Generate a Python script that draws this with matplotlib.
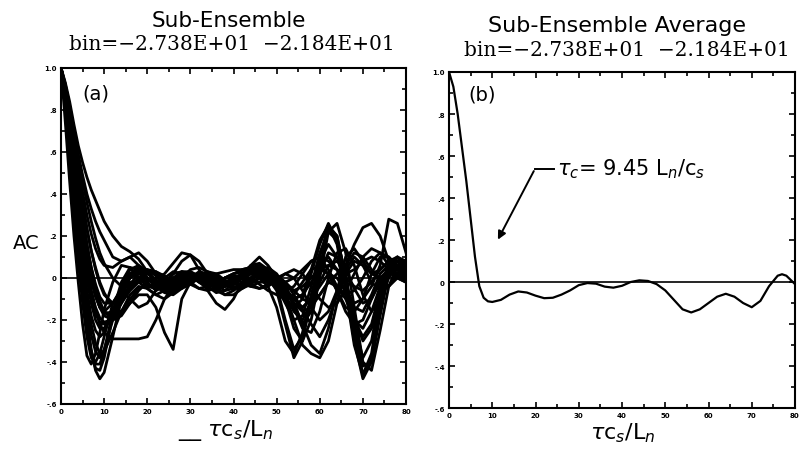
import matplotlib.pyplot as plt
import numpy as np

# lag grid (tau c_s / L_n)
tau = [0, 1, 2, 3, 4, 5, 6, 7, 8, 9, 10,
       12, 14, 16, 18, 20, 22, 24, 26, 28, 30, 32, 34, 36, 38, 40, 42, 44, 46, 48, 50,
       52, 54, 56, 58, 60, 62, 64, 66, 68, 70, 72, 74, 76, 78, 80]

# panel (a): individual sub-ensemble autocorrelations
c01 = [1.0, .74, .46, .2, -.02, -.22, -.37, -.41, -.36, -.26, -.15,
       -.02, .06, .05, .0, -.04, -.05, -.02, .02, .03, .01, -.02, -.04, -.03, .0, .02, .03, .02, .0, -.02, -.03,
       -.05, -.1, -.14, -.1, -.02, .06, .08, .04, -.05, -.12, -.1, -.02, .05, .06, .03]
c02 = [1.0, .86, .66, .44, .22, .0, -.19, -.34, -.44, -.48, -.45,
       -.28, -.1, .02, .05, .03, -.01, -.04, -.05, -.03, .0, .02, .01, -.02, -.04, -.03, .0, .03, .04, .02, -.01,
       -.08, -.16, -.2, -.12, .02, .12, .1, -.02, -.18, -.3, -.24, -.08, .04, .08, .05]
c03 = [1.0, .84, .63, .4, .18, -.04, -.22, -.36, -.43, -.44, -.38,
       -.18, -.04, .04, .06, .03, -.02, -.06, -.07, -.04, .0, .03, .02, -.01, -.03, -.02, .01, .04, .05, .03, .01,
       -.04, -.12, -.22, -.16, .04, .24, .2, .0, -.26, -.46, -.38, -.12, .06, .1, .06]
c04 = [1.0, .8, .55, .3, .08, -.12, -.28, -.38, -.4, -.36, -.28,
       -.12, -.06, -.1, -.14, -.12, -.06, .0, .03, .02, -.02, -.05, -.06, -.05, -.03, -.02, -.03, -.04, -.02, .0, .01,
       -.02, -.08, -.15, -.22, -.28, -.2, -.08, .02, .08, .06, .02, .0, .02, .04, .02]
c05 = [1.0, .86, .68, .48, .28, .09, -.08, -.22, -.31, -.36, -.35,
       -.26, -.16, -.08, -.04, -.05, -.08, -.1, -.07, -.02, .02, .01, -.02, -.06, -.08, -.06, -.03, .0, .01, -.01, -.03,
       -.1, -.24, -.3, -.2, .0, .22, .26, .12, -.14, -.4, -.44, -.25, -.04, .06, .08]
c06 = [1.0, .88, .72, .55, .38, .22, .07, -.06, -.15, -.22, -.26,
       -.29, -.29, -.29, -.29, -.28, -.2, -.1, -.04, -.02, -.03, -.05, -.04, -.02, .0, .0, -.02, -.04, -.05, -.03, .0,
       .02, .0, -.06, -.14, -.2, -.16, -.06, .06, .12, .1, .04, -.02, -.04, .0, .04]
c07 = [1.0, .9, .76, .6, .44, .29, .16, .05, -.04, -.11, -.16,
       -.2, -.18, -.12, -.08, -.08, -.14, -.26, -.34, -.1, -.02, .0, -.02, -.04, -.04, -.02, .0, .02, .02, .0, -.02,
       -.06, -.12, -.16, -.14, -.08, -.02, -.04, -.1, -.2, -.24, -.16, -.04, .04, .06, .04]
c08 = [1.0, .93, .84, .73, .63, .55, .48, .42, .37, .32, .27,
       .2, .15, .125, .09, .03, -.02, -.04, -.02, .02, .03, .01, -.01, -.02, .0, .02, .03, .04, .03, .01, -.01,
       -.04, -.06, -.04, .0, .04, .06, .04, .0, -.04, -.06, -.02, .04, .08, .08, .05]
c09 = [1.0, .92, .82, .7, .59, .49, .4, .33, .27, .22, .18,
       .1, .08, .1, .12, .08, .02, -.02, -.03, .0, .04, .05, .03, .0, -.02, -.02, .0, .02, .03, .02, .0,
       -.02, .0, .04, .08, .1, .08, .04, .02, .04, .08, .1, .08, .04, .0, -.02]
c10 = [1.0, .9, .77, .62, .48, .35, .23, .13, .05, -.02, -.07,
       -.14, -.16, -.12, -.06, -.02, .0, .02, .07, .12, .11, .04, -.02, -.04, -.03, -.01, .0, -.01, -.02, -.02, -.03,
       -.08, -.2, -.32, -.36, -.38, -.3, -.12, .04, .1, .06, -.02, -.06, -.04, .02, .06]
c11 = [1.0, .87, .7, .52, .35, .19, .05, -.06, -.14, -.19, -.21,
       -.2, -.12, -.04, .0, -.02, -.06, -.04, .02, .08, .11, .08, .02, -.03, -.06, -.05, -.02, .0, .01, .0, -.06,
       -.22, -.38, -.3, -.1, .1, .25, .2, .0, -.22, -.38, -.3, -.08, .08, .1, .04]
c12 = [1.0, .89, .74, .58, .42, .28, .15, .04, -.05, -.12, -.16,
       -.18, -.12, -.06, -.02, -.01, -.02, -.04, -.04, -.01, .02, .0, -.06, -.12, -.15, -.1, -.02, .06, .1, .06, .0,
       -.06, -.1, -.08, -.02, .04, .02, -.06, -.14, -.16, -.1, .02, .1, .1, .06, .02]
c13 = [1.0, .88, .72, .55, .39, .24, .11, .0, -.08, -.14, -.17,
       -.16, -.1, -.04, -.01, .0, -.02, -.05, -.06, -.04, -.01, .01, .02, .0, -.03, -.05, -.04, -.01, .02, .03, .01,
       -.02, -.06, -.1, -.12, -.08, -.02, .02, .06, .16, .24, .26, .2, .08, .0, -.02]
c14 = [1.0, .85, .66, .46, .27, .09, -.06, -.18, -.25, -.28, -.26,
       -.16, -.05, .02, .03, .0, -.04, -.06, -.04, .0, .02, .0, -.03, -.05, -.04, -.01, .02, .04, .03, .0, -.03,
       -.07, -.12, -.14, -.1, -.04, .02, .0, -.06, -.12, -.1, -.04, .06, .28, .26, .12]
c15 = [1.0, .87, .69, .5, .32, .15, .0, -.12, -.2, -.24, -.24,
       -.16, -.06, .0, .02, .0, -.03, -.04, -.02, .01, .02, .0, -.02, -.03, -.02, .0, .02, .03, .02, -.01, -.05,
       -.1, -.14, -.1, .02, .16, .26, .18, -.04, -.3, -.48, -.4, -.14, .06, .08, .02]
c16 = [1.0, .89, .74, .58, .43, .29, .16, .05, -.03, -.09, -.12,
       -.12, -.06, -.02, -.02, -.05, -.08, -.06, -.01, .03, .03, .0, -.04, -.07, -.06, -.02, .02, .06, .07, .04, -.04,
       -.2, -.34, -.28, -.1, .08, .16, .1, -.04, -.14, -.16, -.08, .02, .06, .04, .0]
c17 = [1.0, .9, .77, .63, .49, .36, .24, .13, .04, -.03, -.08,
       -.12, -.1, -.05, .0, .03, .02, -.02, -.05, -.05, -.03, .0, .02, .01, -.02, -.04, -.05, -.03, .0, .02, .01,
       -.04, -.12, -.22, -.32, -.36, -.24, -.06, .1, .14, .08, .02, .04, .08, .06, .02]
c18 = [1.0, .91, .79, .66, .53, .41, .3, .21, .14, .09, .06,
       .05, .08, .1, .06, .0, -.04, -.05, -.03, .0, .01, .0, -.02, -.02, .0, .01, .0, -.03, -.05, -.04, -.01,
       .02, .04, .02, -.04, -.1, -.14, -.12, -.06, .02, .1, .14, .12, .06, .02, .0]
c19 = [1.0, .83, .6, .37, .15, -.06, -.23, -.35, -.41, -.41, -.35,
       -.16, -.02, .05, .04, .0, -.03, -.03, .0, .03, .02, -.01, -.03, -.02, .0, .02, .04, .05, .03, .0, -.02,
       -.06, -.1, -.08, .04, .18, .25, .16, -.06, -.32, -.46, -.36, -.1, .06, .06, .0]
c20 = [1.0, .87, .71, .54, .38, .23, .1, -.01, -.09, -.14, -.16,
       -.12, -.05, .01, .03, .02, -.01, -.02, .0, .02, .01, -.02, -.05, -.06, -.04, -.01, .01, .0, -.03, -.06, -.08,
       -.1, -.08, -.02, .04, .06, .02, -.06, -.16, -.22, -.2, -.1, .0, .04, .02, -.02]
c21 = [1.0, .86, .68, .49, .31, .15, .01, -.1, -.17, -.21, -.22,
       -.18, -.1, -.03, .02, .04, .03, .0, -.03, -.04, -.02, .01, .03, .02, -.01, -.03, -.03, .0, .04, .05, .02,
       -.04, -.14, -.24, -.26, -.16, .0, .12, .14, .06, -.08, -.16, -.1, .0, .06, .08]
c22 = [1.0, .85, .64, .43, .22, .03, -.14, -.27, -.35, -.38, -.34,
       -.2, -.08, .0, .04, .04, .01, -.03, -.05, -.03, .0, .02, .02, .0, -.02, -.02, .0, .02, .02, .0, -.04,
       -.12, -.2, -.18, -.04, .12, .22, .18, .02, -.22, -.42, -.4, -.18, .02, .1, .08]
c23 = [1.0, .92, .81, .69, .57, .46, .36, .27, .19, .12, .07,
       .0, -.04, -.04, -.01, .02, .03, .01, -.02, -.03, -.02, .0, .01, .02, .03, .04, .04, .05, .06, .03, -.01,
       -.06, -.04, .02, .08, .1, .04, -.04, -.08, -.06, .0, .08, .12, .1, .04, -.02]
c24 = [1.0, .88, .73, .56, .4, .25, .12, .01, -.08, -.14, -.18,
       -.2, -.16, -.1, -.05, -.03, -.04, -.07, -.08, -.05, -.01, .02, .0, -.04, -.08, -.08, -.05, -.02, .0, -.04, -.14,
       -.3, -.36, -.26, -.08, .06, .1, .04, -.08, -.2, -.28, -.22, -.06, .06, .1, .06]

ensemble = [c01, c02, c03, c04, c05, c06, c07, c08, c09, c10, c11, c12,
            c13, c14, c15, c16, c17, c18, c19, c20, c21, c22, c23, c24]

# panel (b): sub-ensemble average
tau_avg = [0, 1, 2, 3, 4, 5, 6, 7, 8, 9, 10, 12, 14, 16, 18, 20, 22, 24, 26, 28, 30,
           32, 34, 36, 38, 40, 42, 44, 46, 48, 50, 52, 54, 56, 58, 60, 62, 64, 66,
           68, 70, 72, 74, 76, 77, 78, 80]
ac_avg = [1.0, .93, .8, .64, .48, .3, .12, -.02, -.075, -.092, -.095, -.085, -.06,
          -.045, -.05, -.065, -.077, -.075, -.06, -.04, -.015, -.005, -.008, -.022,
          -.027, -.018, .0, .008, .005, -.01, -.04, -.085, -.13, -.145, -.13, -.1,
          -.07, -.056, -.07, -.1, -.12, -.09, -.02, .03, .037, .03, -.01]

xticks = [0, 10, 20, 30, 40, 50, 60, 70, 80]
xlabels = ['0', '10', '20', '30', '40', '50', '60', '70', '80']
yticks = [-.6, -.4, -.2, 0, .2, .4, .6, .8, 1.0]
ylabels = ['-.6', '-.4', '-.2', '0', '.2', '.4', '.6', '.8', '1.0']

fig = plt.figure(figsize=(8.04, 4.52), dpi=100)
ax1 = fig.add_axes([0.0759, 0.1040, 0.4291, 0.7434])
ax2 = fig.add_axes([0.5585, 0.0951, 0.4303, 0.7434])

for c in ensemble:
    ax1.plot(tau, c, color='k', lw=2.0)
ax2.plot(tau_avg, ac_avg, color='k', lw=1.6)

for ax in (ax1, ax2):
    ax.axhline(0, color='k', lw=1.2)
    ax.set_xlim(0, 80)
    ax.set_ylim(-0.6, 1.0)
    ax.set_xticks(xticks)
    ax.set_xticklabels(xlabels, fontsize=5, fontweight='bold')
    ax.set_yticks(yticks)
    ax.set_yticklabels(ylabels, fontsize=5, fontweight='bold')
    ax.set_xticks(np.arange(0, 81, 5), minor=True)
    ax.set_yticks(np.arange(-.6, 1.01, .1), minor=True)
    ax.tick_params(which='both', direction='in', top=True, right=True, width=1.2)
    ax.tick_params(which='major', length=4, pad=3)
    ax.tick_params(which='minor', length=3)
    for s in ax.spines.values():
        s.set_linewidth(1.5)

ax1.text(4.9, 0.88, '(a)', fontsize=14, va='center')
ax2.text(4.4, 0.895, '(b)', fontsize=14, va='center')

# annotation with bent arrow
ax2.plot([19.9, 24.2], [0.54, 0.54], color='k', lw=1.4)
ax2.annotate('', xy=(11, 0.19), xytext=(19.9, 0.54),
             arrowprops=dict(arrowstyle='-|>', color='k', lw=1.4, mutation_scale=12))
ax2.text(25, 0.54, r'$\tau_c$= 9.45 L$_n$/c$_s$', fontsize=15, va='center')

fig.text(0.032, 0.462, 'AC', fontsize=14, ha='center', va='center')
fig.text(0.280, 0.035, r'__ $\tau$c$_s$/L$_n$', fontsize=16, ha='center', va='baseline')
fig.text(0.774, 0.027, r'$\tau$c$_s$/L$_n$', fontsize=16, ha='center', va='baseline')

fig.text(0.285, 0.940, 'Sub-Ensemble', fontsize=15.5, ha='center', va='baseline')
fig.text(0.288, 0.889, 'bin=\u22122.738E+01  \u22122.184E+01', family='DejaVu Serif',
         fontsize=14.5, ha='center', va='baseline')
fig.text(0.767, 0.930, 'Sub-Ensemble Average', fontsize=16, ha='center', va='baseline')
fig.text(0.780, 0.875, 'bin=\u22122.738E+01  \u22122.184E+01', family='DejaVu Serif',
         fontsize=14.5, ha='center', va='baseline')

fig.savefig('out.png', dpi=100)
